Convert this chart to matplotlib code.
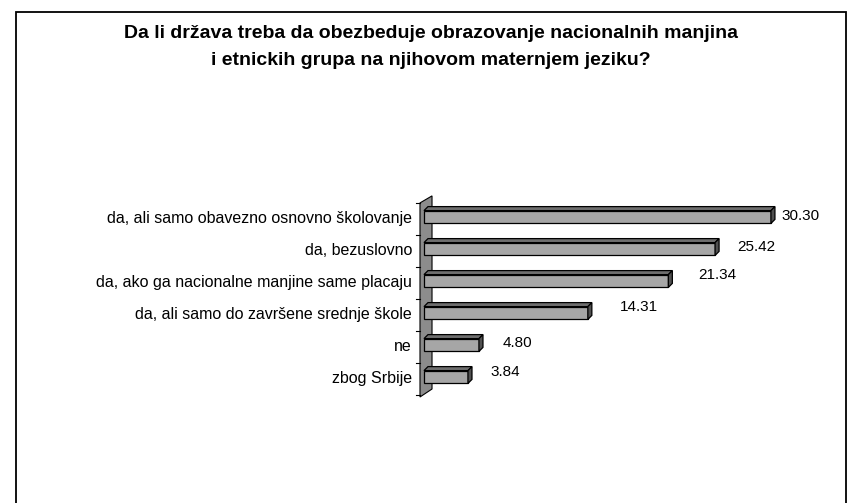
import numpy as np
import matplotlib
matplotlib.use("Agg")
import matplotlib.pyplot as plt
from matplotlib.patches import Polygon, Rectangle

plt.rcParams['font.family'] = ['Liberation Sans', 'DejaVu Sans']

title = ("Da li država treba da obezbeduje obrazovanje nacionalnih manjina\n"
         "i etnickih grupa na njihovom maternjem jeziku?")
categories = ["da, ali samo obavezno osnovno školovanje",
              "da, bezuslovno",
              "da, ako ga nacionalne manjine same placaju",
              "da, ali samo do završene srednje škole",
              "ne",
              "zbog Srbije"]
values = [30.30, 25.42, 21.34, 14.31, 4.80, 3.84]
labels = ["30.30", "25.42", "21.34", "14.31", "4.80", "3.84"]

# label offsets from bar end (pixels), as placed in the original
label_dx = [11, 22, 30, 32, 24, 22]
label_dy = [1, 2, 6, 6, 2, 5]

W, H = 852, 503
fig = plt.figure(figsize=(W / 100, H / 100), dpi=100)

# axes placed so that x=0 sits at px 424 and 11.45 px per unit
x0, x1 = -1.0, 36.0
y_top, y_bot = -0.7, 5.7
px_l = 424 + x0 * 11.45
px_r = 424 + x1 * 11.45
py_t = 217 + y_top * 32
py_b = 217 + y_bot * 32
ax = fig.add_axes([px_l / W, 1 - py_b / H, (px_r - px_l) / W, (py_b - py_t) / H])
ax.set_xlim(x0, x1)
ax.set_ylim(y_bot, y_top)
ax.axis("off")

# depth of the 3D effect in data units
dx, dy = 0.35, 0.125
h = 0.4

# back wall
wall = Polygon([(-0.35, -0.44), (0.70, -0.66), (0.70, 5.375), (-0.35, 5.625)],
               closed=True, facecolor="#8c8c8c", edgecolor="black", lw=0.8,
               clip_on=False, zorder=1)
ax.add_patch(wall)
for b in np.arange(-0.5, len(values), 1.0):
    ax.plot([-0.70, -0.35], [b + 0.06, b + 0.06], color="black", lw=0.8,
            clip_on=False, zorder=1)

ypos = np.arange(len(values))
ax.barh(ypos, values, height=h, left=0, color="#a6a6a6", edgecolor="black",
        lw=0.9, zorder=3)
for y, v in zip(ypos, values):
    top = Polygon([(0, y - h / 2), (v, y - h / 2), (v + dx, y - h / 2 - dy),
                   (dx, y - h / 2 - dy)], closed=True, facecolor="#6e6e6e",
                  edgecolor="black", lw=0.9, zorder=2)
    side = Polygon([(v, y - h / 2), (v + dx, y - h / 2 - dy),
                    (v + dx, y + h / 2 - dy), (v, y + h / 2)], closed=True,
                   facecolor="#505050", edgecolor="black", lw=0.9, zorder=4)
    ax.add_patch(top)
    ax.add_patch(side)

for y, v, lab, ddx, ddy in zip(ypos, values, labels, label_dx, label_dy):
    ax.annotate(lab, (v, y), xytext=(ddx, ddy), textcoords="offset pixels",
                ha="left", va="center", fontsize=11)

for y, cat in zip(ypos, categories):
    ax.text(-1.05, y + 0.06, cat, ha="right", va="center", fontsize=11.5,
            clip_on=False)

fig.text(431 / W, 1 - 47 / H, title, ha="center", va="center",
         fontsize=14, fontweight="bold", linespacing=1.7)

# chart border
fig.add_artist(Rectangle((16 / W, -0.05), (846 - 16) / W, 1.05 - 12 / H,
                         transform=fig.transFigure, fill=False,
                         edgecolor="black", lw=1.3))

fig.savefig("out.png", dpi=100)
